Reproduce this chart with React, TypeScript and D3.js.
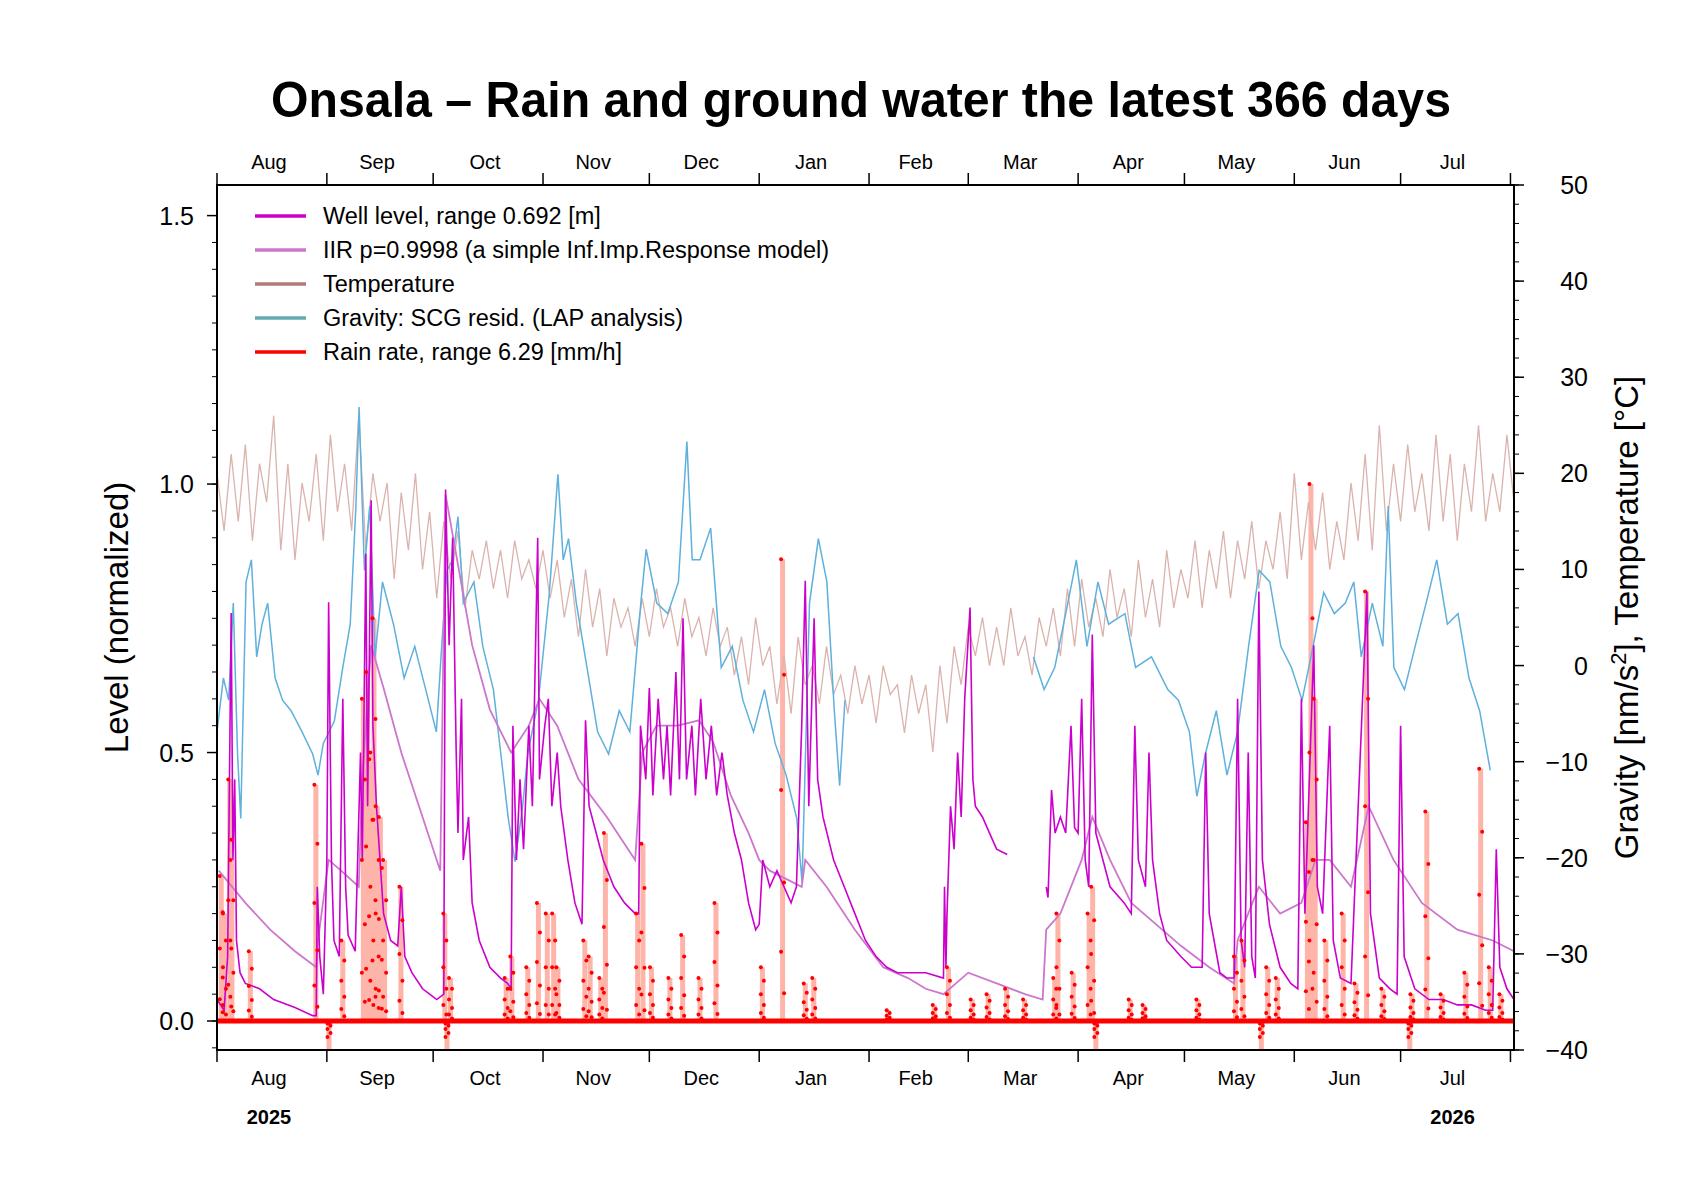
import * as d3 from "d3";

const W = 1684;
const H = 1190;
const M = { left: 217, right: 1514, top: 185, bottom: 1050 };

const monthStarts = [0, 31, 61, 92, 122, 153, 184, 212, 243, 273, 304, 334, 365];
const monthLabels = ["Aug", "Sep", "Oct", "Nov", "Dec", "Jan", "Feb", "Mar", "Apr", "May", "Jun", "Jul"];

// well level [day, normalized level]; NaN marks the data gap
const well: [number, number][] = [
  [0, 0.04], [2, 0.02], [3, 0.12], [4, 0.76], [4.5, 0.3], [5, 0.45], [5.5, 0.15], [6.5, 0.09], [8, 0.07], [12, 0.06],
  [16, 0.04], [22, 0.025], [27, 0.01], [28, 0.01], [28.3, 0.25], [29, 0.12], [30, 0.05], [31, 0.3], [31.5, 0.78], [32.3, 0.3],
  [33, 0.15], [34.5, 0.12], [35.5, 0.6], [36.3, 0.25], [37, 0.16], [39, 0.13], [40.5, 0.5], [41, 0.3], [42, 0.87], [42.5, 0.4],
  [43.5, 0.97], [44, 0.55], [45, 0.4], [46, 0.3], [47, 0.2], [49, 0.15], [51, 0.14], [52, 0.25], [53, 0.12], [55, 0.09],
  [58, 0.06], [60, 0.05], [62, 0.04], [64, 0.05], [64.5, 0.99], [65.5, 0.7], [66.5, 0.9], [67.5, 0.5], [68, 0.35], [69, 0.6],
  [69.5, 0.3], [71, 0.38], [72, 0.22], [74, 0.15], [77, 0.1], [80, 0.08], [82, 0.07], [83, 0.06], [83.5, 0.55], [84.5, 0.3],
  [85.5, 0.45], [86.5, 0.32], [88, 0.55], [89, 0.4], [90.5, 0.9], [91, 0.45], [92.5, 0.55], [93.5, 0.6], [94.5, 0.4], [96, 0.5],
  [97, 0.4], [99, 0.3], [101, 0.22], [103, 0.18], [104, 0.56], [105, 0.4], [107, 0.35], [109, 0.3], [112, 0.25], [115, 0.22],
  [118, 0.2], [119, 0.2], [119.5, 0.55], [121, 0.45], [122, 0.62], [123, 0.42], [124.5, 0.6], [126, 0.45], [127, 0.55], [128, 0.42],
  [129.5, 0.65], [130.5, 0.45], [131.5, 0.75], [132.5, 0.45], [134, 0.55], [135, 0.42], [136.5, 0.6], [138, 0.45], [139.5, 0.55], [141, 0.42],
  [142.5, 0.5], [144, 0.42], [146, 0.35], [148, 0.3], [150, 0.22], [152, 0.17], [153, 0.18], [154, 0.3], [156, 0.25], [158, 0.28],
  [160, 0.25], [162, 0.22], [163.5, 0.25], [165, 0.55], [166, 0.82], [167, 0.4], [168.5, 0.75], [169.5, 0.45], [171, 0.38], [174, 0.3],
  [177, 0.25], [180, 0.2], [183, 0.15], [186, 0.12], [189, 0.1], [192, 0.09], [200, 0.09], [205, 0.08], [205.3, 0.25], [205.7, 0.1],
  [206, 0.2], [207, 0.4], [208, 0.32], [209, 0.5], [210, 0.38], [211, 0.6], [212.5, 0.77], [213.3, 0.45], [214, 0.4], [216, 0.38],
  [218, 0.35], [220, 0.32], [223, 0.31], [228, NaN],
  [234, 0.25], [234.5, 0.23], [235.5, 0.43], [236.5, 0.35], [238, 0.38], [239.5, 0.35], [241, 0.55], [242, 0.36], [243, 0.35], [244, 0.6],
  [245, 0.3], [246, 0.25], [247, 0.72], [248, 0.35], [250, 0.3], [252, 0.25], [256, 0.22], [258, 0.2], [259, 0.55], [260, 0.3],
  [262, 0.25], [263, 0.5], [264, 0.3], [266, 0.2], [268, 0.15], [272, 0.12], [275, 0.1], [278, 0.1], [279, 0.5], [280, 0.2],
  [283, 0.09], [285, 0.08], [287, 0.08], [288, 0.6], [289, 0.15], [290, 0.1], [291, 0.5], [292, 0.12], [293, 0.08], [294, 0.8],
  [295, 0.3], [297, 0.18], [300, 0.1], [303, 0.07], [305, 0.06], [306, 0.6], [307, 0.2], [309.5, 0.7], [310.5, 0.25], [312, 0.2],
  [314, 0.55], [315, 0.15], [317, 0.08], [320, 0.07], [324.5, 0.8], [325.5, 0.2], [328, 0.08], [331, 0.06], [333, 0.05], [334, 0.55],
  [335, 0.12], [338, 0.06], [342, 0.04], [346, 0.04], [350, 0.03], [354, 0.03], [358, 0.02], [360, 0.02], [361, 0.32], [362, 0.1],
  [364, 0.06], [366, 0.04],
];

const iir: [number, number][] = [
  [0.5, 0.28], [3, 0.26], [8, 0.22], [15, 0.17], [22, 0.13], [28, 0.1], [28.5, 0.15], [31.5, 0.3], [35, 0.28], [40, 0.25],
  [41, 0.45], [43.5, 0.7], [47, 0.62], [52, 0.5], [57, 0.4], [63, 0.28], [64.5, 0.98], [68, 0.85], [72, 0.7], [77, 0.58],
  [83, 0.5], [88, 0.55], [91, 0.6], [96, 0.55], [102, 0.45], [110, 0.38], [118, 0.3], [120, 0.5], [124, 0.55], [130, 0.55],
  [136, 0.56], [140, 0.52], [145, 0.42], [150, 0.35], [153, 0.3], [156, 0.28], [165, 0.25], [166, 0.3], [172, 0.25], [180, 0.17],
  [188, 0.1], [195, 0.08], [200, 0.06], [205, 0.05], [212, 0.09], [220, 0.07], [228, 0.05], [233, 0.04], [234, 0.17], [238, 0.2],
  [244, 0.3], [247, 0.38], [252, 0.3], [258, 0.22], [265, 0.18], [272, 0.14], [280, 0.1], [287, 0.07], [288, 0.15], [294, 0.25],
  [300, 0.2], [306, 0.22], [310, 0.3], [314, 0.3], [320, 0.25], [325, 0.4], [332, 0.3], [340, 0.22], [350, 0.17], [360, 0.15],
  [366, 0.13],
];

// temperature [°C], one value every 2 days from day 0
const temperature = [
  20, 14, 22, 15, 23, 13, 21, 17, 26, 12,
  21, 11, 19, 15, 22, 13, 24, 16, 21, 14,
  26, 12, 20, 15, 19, 9, 18, 12, 20, 10,
  16, 7, 15, 9, 14, 6, 12, 9, 13, 8,
  12, 7, 13, 9, 11, 8, 12, 7, 11, 5,
  9, 3, 10, 4, 8, 1, 7, 4, 6, 2,
  7, 3, 8, 4, 6, 2, 7, 3, 5, 1,
  6, 2, 4, -1, 3, -2, 5, 0, 2, -4,
  1, -5, 3, -2, 0, -4, 2, -3, -1, -5,
  0, -4, -1, -6, 0, -3, -2, -7, -1, -5,
  -2, -9, 0, -6, 2, -2, 4, 1, 5, 0,
  4, 0, 6, 1, 3, -1, 5, 2, 6, 1,
  8, 2, 9, 4, 7, 3, 10, 5, 8, 3,
  11, 5, 9, 4, 12, 6, 10, 7, 13, 6,
  12, 8, 14, 7, 13, 9, 15, 8, 13, 10,
  16, 9, 20, 11, 17, 12, 18, 10, 15, 11,
  19, 13, 22, 12, 25, 14, 21, 15, 23, 16,
  20, 14, 24, 15, 22, 13, 21, 16, 25, 15,
  20, 16, 24, 17,
];

// gravity residual [nm/s^2]
const gravity: [number, number][] = [
  [0, -6.9], [1.8, -1.3], [3.3, -3.6], [4.6, 6.5], [5.8, -9.2], [6.7, -15.9], [8.2, 8.7], [9.7, 11], [11.2, 0.9], [12.7, 4.3],
  [14.3, 6.5], [16.4, -1.3], [18.5, -3.6], [20.9, -4.7], [24, -6.9], [27, -9.2], [28.5, -11.4], [30, -8.1], [33.1, -5.8], [35.5, -0.2],
  [37.6, 4.3], [39.2, 16.6], [40.1, 26.9], [41.6, 9.9], [43.1, 16.6], [44.6, 0.9], [46.7, 8.7], [49.8, 4.3], [52.8, -1.3], [55.8, 2],
  [58.9, -2.5], [61.9, -6.9], [63.4, 2], [64.9, 9.9], [66.5, 11], [68, 15.5], [69.5, 6.5], [72.5, 8.7], [75, 2], [78, -2.5],
  [80.1, -9.2], [82.2, -15.9], [84.1, -20.4], [86.2, -14.8], [87.7, -9.2], [90.7, -3.6], [93.8, 7.6], [96.2, 19.9], [97.7, 11], [99.2, 13.2],
  [101.4, 6.5], [104.4, -0.2], [107.4, -6.9], [110.5, -9.2], [113.5, -4.7], [116.5, -6.9], [119.6, 6.5], [121.1, 12.1], [124.1, 6.5], [127.2, 5.4],
  [130.2, 8.7], [132.6, 23.3], [134.1, 11], [136.3, 11], [139.3, 14.3], [142.3, -0.2], [145.4, 2], [148.4, -3.6], [151.4, -6.9], [154.5, -2.5],
  [157.5, -8.1], [160.6, -11.4], [163.6, -15.9], [165.1, -22.6], [167.2, 6.5], [169.7, 13.2], [172.1, 8.7], [174.2, -4.7], [175.7, -12.5], [177.2, -3.6],
  [200, NaN],
  [230.4, 0.9], [233.4, -2.5], [236.4, -0.2], [239.5, 5.4], [242.5, 11], [245.5, 2], [248.6, 8.7], [251.6, 4.3], [256.2, 5.4], [259.2, -0.2],
  [263.7, 0.9], [268.3, -2.5], [271.3, -3.6], [274.4, -6.9], [276.5, -13.6], [278.9, -9.2], [282, -4.7], [285, -11.4], [288, -6.9], [291.1, 2],
  [294.1, 9.9], [297.1, 8.7], [300.2, 2], [303.2, -0.2], [306.2, -3.6], [309.3, 2], [312.3, 7.6], [315.3, 5.4], [318.4, 6.5], [320.8, 8.7],
  [322.9, 0.9], [326, 6.5], [329, 2], [330.5, 16.6], [332.1, -0.2], [335.1, -2.5], [338.1, 2], [341.2, 6.5], [344.2, 11], [347.2, 4.3],
  [350.2, 5.4], [353.3, -1.3], [356.3, -4.7], [359.3, -10.9],
];

// rain events [day, peak on the normalized scale]; negative = bar clipped at the bottom
const rain: [number, number][] = [
  [1.2, 0.27], [2.1, 0.2], [3.6, 0.45], [4.2, 0.3], [9.4, 0.13], [27.9, 0.44], [31.6, -0.06], [35.5, 0.15], [41.3, 0.6], [42.5, 0.65],
  [43.7, 0.5], [44.3, 0.75], [45.2, 0.4], [46.1, 0.38], [47.3, 0.3], [51.9, 0.25], [64.3, 0.2], [64.9, -0.06], [65.9, 0.08], [81.6, 0.08],
  [83.2, 0.12], [87.7, 0.1], [90.7, 0.22], [93.2, 0.2], [95, 0.2], [96.2, 0.1], [103.8, 0.15], [105.3, 0.12], [108.3, 0.08], [109.6, 0.35],
  [118.7, 0.2], [120.2, 0.33], [122.6, 0.1], [127.8, 0.08], [131.4, 0.16], [136.3, 0.08], [140.8, 0.22], [153.9, 0.1], [159.6, 0.86], [166, 0.07],
  [168.4, 0.08], [189.4, 0.02], [202.4, 0.03], [206.4, 0.1], [213.1, 0.04], [217.6, 0.05], [222.8, 0.06], [227.9, 0.04], [236.4, 0.08], [237.3, 0.2],
  [241.6, 0.09], [246.1, 0.2], [247.1, 0.25], [248, -0.06], [257.7, 0.04], [261.6, 0.03], [276.8, 0.04], [287.4, 0.12], [289.5, 0.15], [294.7, -0.06],
  [296.5, 0.1], [299.2, 0.08], [307.7, 0.37], [308.7, 1.0], [309.9, 0.6], [312.9, 0.15], [317.8, 0.2], [321.4, 0.07], [324.4, 0.8], [329, 0.06],
  [336.6, -0.06], [337.2, 0.05], [341.4, 0.39], [345.7, 0.05], [352.4, 0.09], [356.6, 0.47], [359.3, 0.1], [362.3, 0.05],
];

const dotFractions = [1, 0.75, 0.5, 0.3, 0.15, 0.06];

const legend = [
  { label: "Well level, range 0.692 [m]", color: "#cc00cc" },
  { label: "IIR p=0.9998 (a simple Inf.Imp.Response model)", color: "#cc77cc" },
  { label: "Temperature", color: "#b07a78" },
  { label: "Gravity: SCG resid. (LAP analysis)", color: "#66aab0" },
  { label: "Rain rate, range 6.29 [mm/h]", color: "#ff0000" },
];

const FONT = "'Liberation Sans', Arial, Helvetica, sans-serif";

export default function App() {
  const x = d3.scaleLinear().domain([0, 366]).range([M.left, M.right]);
  const yL = d3.scaleLinear().domain([-0.054, 1.557]).range([M.bottom, M.top]);
  const yR = d3.scaleLinear().domain([-40, 50]).range([M.bottom, M.top]);

  const lineL = d3
    .line<[number, number]>()
    .defined((d) => !isNaN(d[1]))
    .x((d) => x(d[0]))
    .y((d) => yL(d[1]));
  const lineR = d3
    .line<[number, number]>()
    .defined((d) => !isNaN(d[1]))
    .x((d) => x(d[0]))
    .y((d) => yR(d[1]));
  const tempPts: [number, number][] = temperature.map((t, i) => [i * 2, t]);

  const leftMinor = d3.range(0, 31).map((i) => -0.05 + i * 0.05);
  const leftMajor = [0, 0.5, 1.0, 1.5];
  const rightMinor = d3.range(-40, 51, 2);
  const rightMajor = d3.range(-40, 51, 10);

  return (
    <svg width={W} height={H} style={{ display: "block", margin: -8 }} fontFamily={FONT}>
      <rect width={W} height={H} fill="#fff" />
      <defs>
        <clipPath id="plot">
          <rect x={M.left} y={M.top} width={M.right - M.left} height={M.bottom - M.top} />
        </clipPath>
      </defs>
      <text x={861} y={117} textAnchor="middle" fontSize={50} fontWeight="bold" textLength={1180} lengthAdjust="spacingAndGlyphs">
        Onsala – Rain and ground water the latest 366 days
      </text>

      <g clipPath="url(#plot)">
        {rain.map(([d, v], i) => (
          <rect key={"rb" + i} x={x(d) - 2.5} width={5} y={v >= 0 ? yL(v) : yL(0)} height={Math.abs(yL(v) - yL(0))} fill="#ffb4aa" />
        ))}
        <path d={lineR(tempPts) ?? ""} fill="none" stroke="#dbb3ad" strokeWidth={1.3} />
        <path d={lineR(gravity) ?? ""} fill="none" stroke="#5fb0dc" strokeWidth={1.5} />
        <path d={lineL(iir) ?? ""} fill="none" stroke="#cc77cc" strokeWidth={1.8} />
        <path d={lineL(well) ?? ""} fill="none" stroke="#cc00cc" strokeWidth={1.6} />
        <line x1={M.left} x2={M.right} y1={yL(0)} y2={yL(0)} stroke="#ff0000" strokeWidth={5} />
        {rain.flatMap(([d, v], i) =>
          dotFractions.map((f, j) => (
            <circle key={"rd" + i + "-" + j} cx={x(d) + (j % 2 ? 1.5 : -1.5)} cy={yL(v >= 0 ? v * f : v * f * 0.5)} r={2} fill="#ff0000" />
          )),
        )}
      </g>

      <rect x={M.left} y={M.top} width={M.right - M.left} height={M.bottom - M.top} fill="none" stroke="#000" strokeWidth={2} />

      {/* left axis */}
      {leftMinor.map((v) => (
        <line key={"lm" + v} x1={M.left} x2={M.left - 5} y1={yL(v)} y2={yL(v)} stroke="#000" strokeWidth={1} />
      ))}
      {leftMajor.map((v) => (
        <g key={"lM" + v}>
          <line x1={M.left} x2={M.left - 10} y1={yL(v)} y2={yL(v)} stroke="#000" strokeWidth={1.5} />
          <text x={194} y={yL(v) + 9} textAnchor="end" fontSize={25}>
            {v.toFixed(1)}
          </text>
        </g>
      ))}
      <text transform={`translate(128,${(M.top + M.bottom) / 2}) rotate(-90)`} textAnchor="middle" fontSize={33}>
        Level (normalized)
      </text>

      {/* right axis */}
      {rightMinor.map((v) => (
        <line key={"rm" + v} x1={M.right} x2={M.right + 5} y1={yR(v)} y2={yR(v)} stroke="#000" strokeWidth={1} />
      ))}
      {rightMajor.map((v) => (
        <g key={"rM" + v}>
          <line x1={M.right} x2={M.right + 10} y1={yR(v)} y2={yR(v)} stroke="#000" strokeWidth={1.5} />
          <text x={1588} y={yR(v) + 9} textAnchor="end" fontSize={25}>
            {v < 0 ? "−" + Math.abs(v) : v}
          </text>
        </g>
      ))}
      <text transform={`translate(1638,${(M.top + M.bottom) / 2}) rotate(-90)`} textAnchor="middle" fontSize={33}>
        Gravity [nm/s<tspan baselineShift="super" fontSize={22}>2</tspan>], Temperature [°C]
      </text>

      {/* month axes top and bottom */}
      {monthStarts.map((d) => (
        <g key={"mt" + d}>
          <line x1={x(d)} x2={x(d)} y1={M.bottom} y2={M.bottom + 12} stroke="#000" strokeWidth={1.5} />
          <line x1={x(d)} x2={x(d)} y1={M.top} y2={M.top - 12} stroke="#000" strokeWidth={1.5} />
        </g>
      ))}
      {monthLabels.map((m, i) => {
        const cx = x((monthStarts[i] + monthStarts[i + 1]) / 2) - 3;
        return (
          <g key={"ml" + m}>
            <text x={cx} y={169} textAnchor="middle" fontSize={20}>
              {m}
            </text>
            <text x={cx} y={1085} textAnchor="middle" fontSize={20}>
              {m}
            </text>
          </g>
        );
      })}
      <text x={x(15.5) - 3} y={1124} textAnchor="middle" fontSize={20} fontWeight="bold">
        2025
      </text>
      <text x={x(349.5) - 3} y={1124} textAnchor="middle" fontSize={20} fontWeight="bold">
        2026
      </text>

      {/* legend */}
      {legend.map((l, i) => (
        <g key={l.label} transform={`translate(0,${216 + i * 34})`}>
          <line x1={255} x2={306} y1={0} y2={0} stroke={l.color} strokeWidth={3.5} />
          <text x={323} y={8} fontSize={23.5}>
            {l.label}
          </text>
        </g>
      ))}
    </svg>
  );
}
